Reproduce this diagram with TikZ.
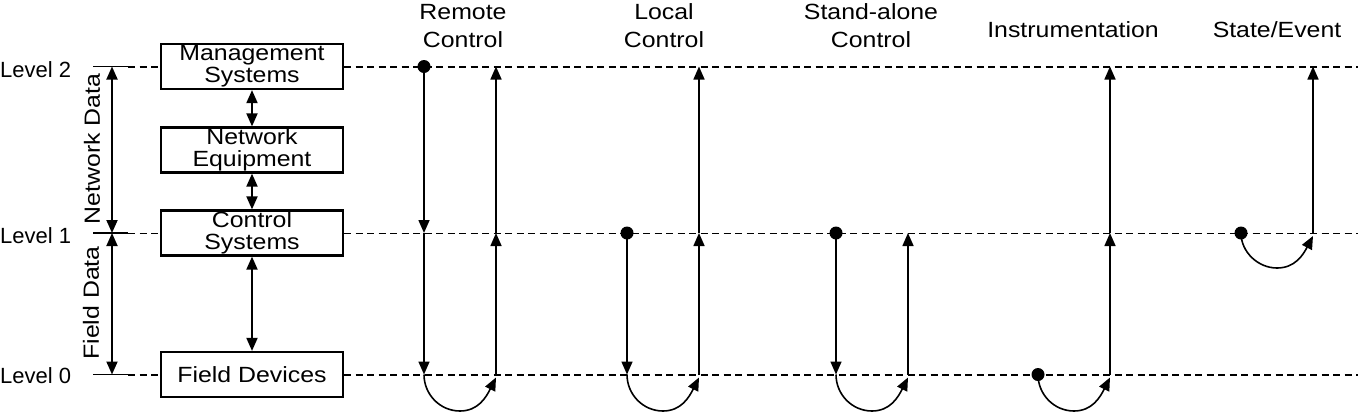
\documentclass[tikz,border=0pt]{standalone}
\usepackage{fontspec}
\setmainfont[FakeStretch=1.13]{Liberation Sans}
\newfontfamily\lvlfont{Liberation Sans}
\usetikzlibrary{arrows.meta}
\begin{document}
\begin{tikzpicture}[x=1pt,y=-1pt,
  lvl/.style={line width=2pt, dash pattern=on 7pt off 4.5pt},
  lvlthin/.style={line width=0.9pt, dash pattern=on 7pt off 4.5pt},
  tick/.style={line width=1.8pt},
  box/.style={draw, line width=2.2pt, minimum width=182pt, minimum height=45pt,
    inner sep=0pt, align=center, font=\fontsize{22}{22}\selectfont},
  tip/.tip={Triangle[length=13pt,width=11pt]},
  flow/.style={line width=1.6pt, -tip},
  bi/.style={line width=1.8pt, tip-tip},
  dot/.style={circle, fill, inner sep=0pt, minimum size=13pt},
  hdr/.style={font=\fontsize{22}{28}\selectfont, align=center, inner sep=0pt},
  lbl/.style={font=\lvlfont\fontsize{22}{22}\selectfont, inner sep=0pt},
  side/.style={font=\fontsize{22}{22}\selectfont, inner sep=0pt, rotate=90}
]
\useasboundingbox (0,0) rectangle (1358,413);

% boxes
\node[box] (ms) at (252,66.5) {Management\\Systems};
\node[box] (ne) at (252,150) {Network\\Equipment};
\node[box] (cs) at (252,233) {Control\\Systems};
\node[box] (fd) at (252,374.5) {Field Devices};

\draw[bi] (ms.south) -- (ne.north);
\draw[bi] (ne.south) -- (cs.north);
\draw[bi] (cs.south) -- (fd.north);

% level labels
\node[lbl, anchor=base west] (lv2) at (0,77) {Level 2};
\node[lbl, anchor=base west] (lv1) at (0,243.5) {Level 1};
\node[lbl, anchor=base west] (lv0) at (0,383) {Level 0};

% level lines
\coordinate (t2a) at (93,66.5);   \coordinate (t2b) at (128,66.5);  \coordinate (e2) at (1358,66.5);
\coordinate (t1a) at (93,233);    \coordinate (t1b) at (128,233);   \coordinate (e1) at (1358,233);
\coordinate (t0a) at (93,374.5);  \coordinate (t0b) at (128,374.5); \coordinate (e0) at (1358,374.5);

\draw[tick] (t2a) -- (t2b);
\draw[tick] (t1a) -- (t1b);
\draw[tick] (t0a) -- (t0b);
\draw[lvl] (t2b) -- (ms.west);
\draw[lvlthin] (t1b) -- (cs.west);
\draw[lvl] (t0b) -- (fd.west);
\draw[lvl] (ms.east) -- (e2);
\draw[lvlthin] (cs.east) -- (e1);
\draw[lvl] (fd.east) -- (e0);

% side arrows
\coordinate (s2) at (112,66.5);
\coordinate (s1) at (112,233);
\coordinate (s0) at (112,374.5);
\draw[bi] (s2) -- (s1);
\draw[bi] (s1) -- (s0);
\node[side] (nd) at (92,149) {Network Data};
\node[side] (fdt) at (91,303) {Field Data};

% headers
\node[hdr] (hRemote) at (463,26) {Remote\\Control};
\node[hdr] (hLocal) at (664,26) {Local\\Control};
\node[hdr] (hStand) at (871,26) {Stand-alone\\Control};
\node[hdr, anchor=base] (hInst) at (1073,37) {Instrumentation};
\node[hdr, anchor=base] (hState) at (1277,37) {State/Event};

% Remote control
\coordinate (r2a) at (424,66.5); \coordinate (r1a) at (424,233); \coordinate (r0a) at (424,374.5);
\coordinate (r2b) at (496,66.5); \coordinate (r1b) at (496,233); \coordinate (r0b) at (496,374.5);
\coordinate (rbot) at (460,411); \coordinate (rtip) at (496,377.5);
\draw[flow] (r2a) -- (r1a);
\draw[flow] (r1a) -- (r0a);
\draw[flow] (r0a) .. controls +(0,20) and +(-20,0) .. (rbot) .. controls +(18,0) and +(-10,20) .. (rtip);
\draw[flow] (r0b) -- (r1b);
\draw[flow] (r1b) -- (r2b);
\node[dot] (rd) at (r2a) {};

% Local control
\coordinate (l1a) at (627,233); \coordinate (l0a) at (627,374.5);
\coordinate (l2b) at (699,66.5); \coordinate (l1b) at (699,233); \coordinate (l0b) at (699,374.5);
\coordinate (lbot) at (663,411); \coordinate (ltip) at (699,377.5);
\draw[flow] (l1a) -- (l0a);
\draw[flow] (l0a) .. controls +(0,20) and +(-20,0) .. (lbot) .. controls +(18,0) and +(-10,20) .. (ltip);
\draw[flow] (l0b) -- (l1b);
\draw[flow] (l1b) -- (l2b);
\node[dot] (ld) at (l1a) {};

% Stand-alone control
\coordinate (a1a) at (836,233); \coordinate (a0a) at (836,374.5);
\coordinate (a1b) at (908,233); \coordinate (a0b) at (908,374.5);
\coordinate (abot) at (872,411); \coordinate (atip) at (908,377.5);
\draw[flow] (a1a) -- (a0a);
\draw[flow] (a0a) .. controls +(0,20) and +(-20,0) .. (abot) .. controls +(18,0) and +(-10,20) .. (atip);
\draw[flow] (a0b) -- (a1b);
\node[dot] (ad) at (a1a) {};

% Instrumentation
\coordinate (i0a) at (1038,374.5);
\coordinate (i2b) at (1110,66.5); \coordinate (i1b) at (1110,233); \coordinate (i0b) at (1110,374.5);
\coordinate (ibot) at (1074,411); \coordinate (itip) at (1110,377.5);
\draw[flow] (i0a) .. controls +(0,20) and +(-20,0) .. (ibot) .. controls +(18,0) and +(-10,20) .. (itip);
\draw[flow] (i0b) -- (i1b);
\draw[flow] (i1b) -- (i2b);
\node[dot] (id) at (i0a) {};

% State/Event
\coordinate (e1a) at (1241,233);
\coordinate (e2b) at (1313,66.5); \coordinate (e1b) at (1313,233);
\coordinate (ebot) at (1277,268); \coordinate (etip) at (1313,236);
\draw[flow] (e1a) .. controls +(0,19) and +(-19,0) .. (ebot) .. controls +(18,0) and +(-10,19) .. (etip);
\draw[flow] (e1b) -- (e2b);
\node[dot] (ed) at (e1a) {};
\end{tikzpicture}
\end{document}
